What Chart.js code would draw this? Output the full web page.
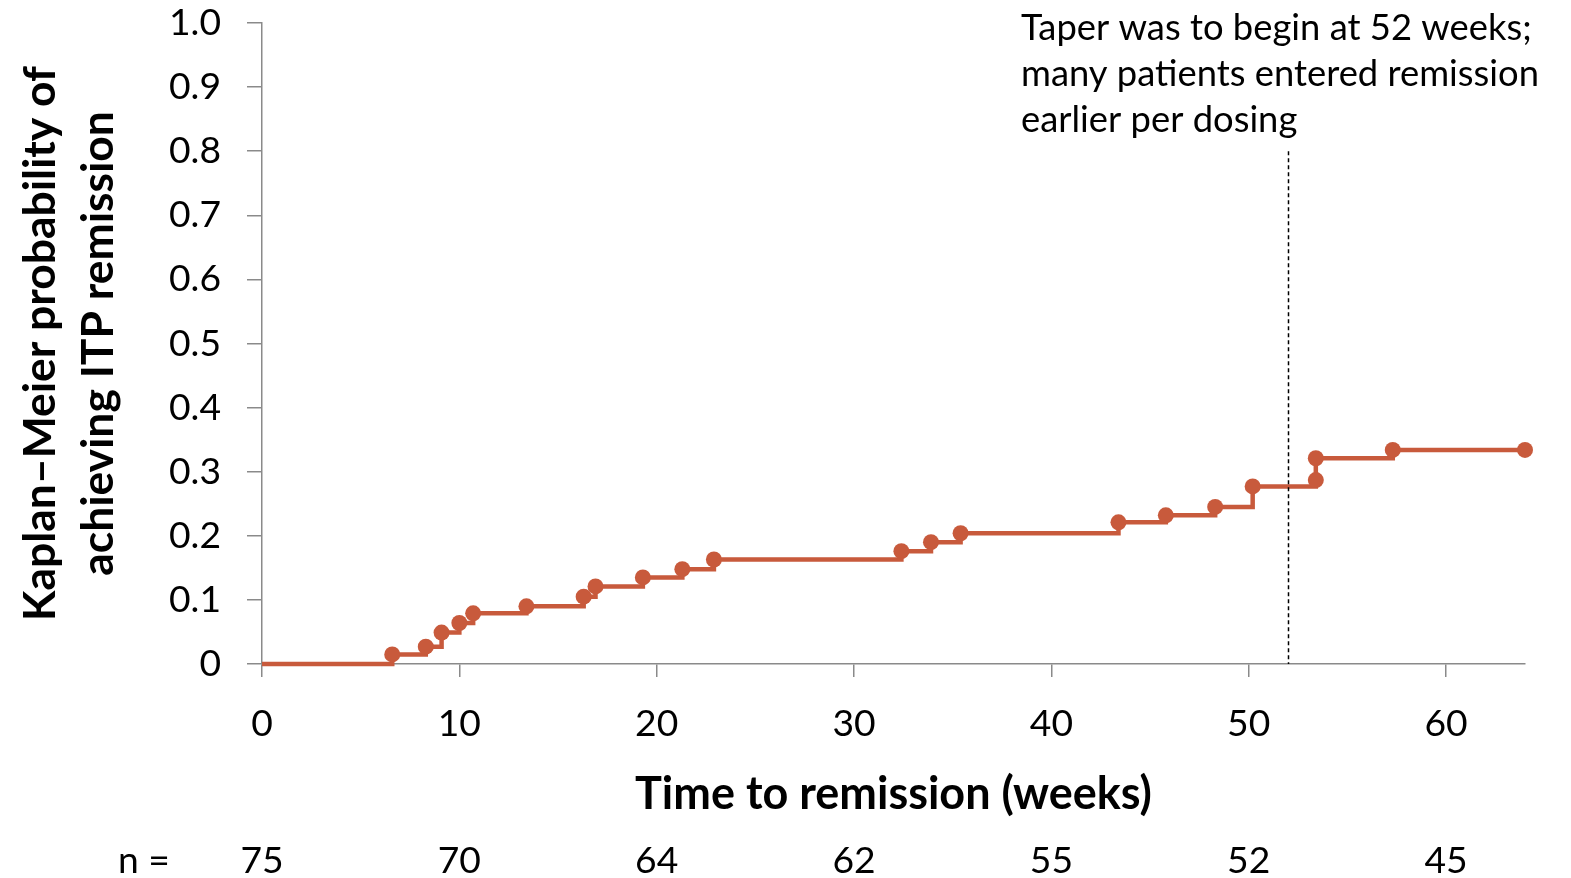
<!DOCTYPE html>
<html>
<head>
<meta charset="utf-8">
<script src="https://cdn.jsdelivr.net/npm/chart.js@4.4.1/dist/chart.umd.min.js"></script>
<style>
  html, body { margin: 0; padding: 0; background: #ffffff; }
  #wrap { width: 1571px; height: 878px; }
</style>
</head>
<body>
<div id="wrap"><canvas id="c" width="1571" height="878"></canvas></div>
<script>
// ---- data ----
const kmWeeks = [0, 6.6, 8.3, 9.1, 10.0, 10.7, 13.4, 16.3, 16.9, 19.3, 21.3, 22.9, 32.4, 33.9, 35.4, 43.4, 45.8, 48.3, 50.2, 53.4, 53.4, 57.3, 64];
const kmProb  = [0, 0.015, 0.027, 0.049, 0.064, 0.079, 0.090, 0.105, 0.121, 0.135, 0.148, 0.163, 0.176, 0.190, 0.204, 0.221, 0.232, 0.245, 0.277, 0.287, 0.321, 0.334, 0.334];
const xTickValues = [0, 10, 20, 30, 40, 50, 60];
const yTickValues = [0, 0.1, 0.2, 0.3, 0.4, 0.5, 0.6, 0.7, 0.8, 0.9, 1.0];
const yTickLabels = ['0', '0.1', '0.2', '0.3', '0.4', '0.5', '0.6', '0.7', '0.8', '0.9', '1.0'];
const atRiskLabel = 'n =';
const atRiskWeeks = [0, 10, 20, 30, 40, 50, 60];
const atRiskCounts = [75, 70, 64, 62, 55, 52, 45];
const taperWeek = 52;
const taperLineTop = 0.8;
const noteLines = ['Taper was to begin at 52 weeks;', 'many patients entered remission', 'earlier per dosing'];
const xTitle = 'Time to remission (weeks)';
const yTitle = ['Kaplan\u2013Meier probability of', 'achieving ITP remission'];
const xMax = 64;

// ---- style ----
const FAMILY = 'Lato, "Open Sans", sans-serif';
const LINE_COLOR = '#C85A3C';
const AXIS_COLOR = '#8a8a8a';

const mctx = document.createElement('canvas').getContext('2d');
function fitSize(text, weight, width) {
  mctx.font = weight + ' 100px ' + FAMILY;
  return 100 * width / mctx.measureText(text).width;
}
const tickSize = fitSize('0.9', 'normal', 52);
const yTitleSize = fitSize(yTitle[0], 'bold', 555);
const xTitleSize = fitSize(xTitle, 'bold', 517);
const noteSize = fitSize(noteLines[1], 'normal', 518);

const overlay = {
  id: 'overlay',
  afterDatasetsDraw(chart) {
    const ctx = chart.ctx;
    const xs = chart.scales.x, ys = chart.scales.y;
    ctx.save();
    ctx.strokeStyle = '#000000';
    ctx.lineWidth = 1.5;
    ctx.setLineDash([4, 3]);
    ctx.beginPath();
    const tx = Math.round(xs.getPixelForValue(taperWeek)) + 0.5;
    ctx.moveTo(tx, ys.getPixelForValue(taperLineTop));
    ctx.lineTo(tx, ys.getPixelForValue(0));
    ctx.stroke();
    ctx.restore();
  },
  afterDraw(chart) {
    const ctx = chart.ctx;
    const xs = chart.scales.x;
    ctx.save();
    ctx.fillStyle = '#000000';
    ctx.font = 'normal ' + noteSize + 'px ' + FAMILY;
    ctx.textAlign = 'left';
    ctx.textBaseline = 'middle';
    noteLines.forEach((t, i) => ctx.fillText(t, 1021, 28 + i * 46));
    ctx.font = 'normal ' + tickSize + 'px ' + FAMILY;
    ctx.textAlign = 'center';
    ctx.fillText(atRiskLabel, 144, 861);
    atRiskWeeks.forEach((w, i) => ctx.fillText(String(atRiskCounts[i]), xs.getPixelForValue(w), 861));
    ctx.restore();
  }
};

const points = kmWeeks.map((w, i) => ({ x: w, y: kmProb[i] }));

new Chart(document.getElementById('c'), {
  type: 'line',
  data: {
    datasets: [{
      data: points,
      stepped: true,
      borderColor: LINE_COLOR,
      backgroundColor: LINE_COLOR,
      borderWidth: 4.5,
      pointRadius: points.map((p, i) => i === 0 ? 0 : 8),
      pointBorderWidth: 0,
      pointBackgroundColor: LINE_COLOR,
      fill: false,
      clip: false
    }]
  },
  options: {
    responsive: false,
    devicePixelRatio: 1,
    animation: false,
    layout: { padding: { left: 0, top: 23, right: 46, bottom: 40 } },
    plugins: { legend: { display: false }, tooltip: { enabled: false } },
    scales: {
      x: {
        type: 'linear',
        min: 0,
        max: xMax,
        afterBuildTicks(scale) { scale.ticks = xTickValues.map(v => ({ value: v })); },
        afterFit(scale) {
          scale.height = 878 - 40 - 664;
          scale.paddingLeft = 0; scale.paddingRight = 0; scale.paddingTop = 0; scale.paddingBottom = 0;
        },
        ticks: {
          color: '#000000',
          font: { family: FAMILY, size: tickSize },
          padding: 25,
          maxRotation: 0,
          callback: (v) => String(v)
        },
        grid: { display: true, drawOnChartArea: false, drawTicks: true, tickLength: 13, color: AXIS_COLOR, lineWidth: 1.5 },
        border: { display: true, color: AXIS_COLOR, width: 1.5 },
        title: {
          display: true,
          text: xTitle,
          color: '#000000',
          font: { family: FAMILY, size: xTitleSize, weight: 'bold', lineHeight: 1.2 },
          padding: { top: 0, bottom: 17 }
        }
      },
      y: {
        type: 'linear',
        min: 0,
        max: 1,
        afterBuildTicks(scale) { scale.ticks = yTickValues.map(v => ({ value: v })); },
        afterFit(scale) {
          scale.width = 262;
          scale.paddingLeft = 0; scale.paddingRight = 0; scale.paddingTop = 0; scale.paddingBottom = 0;
        },
        ticks: {
          color: '#000000',
          font: { family: FAMILY, size: tickSize },
          padding: 26,
          callback: (v, i) => yTickLabels[i]
        },
        grid: { display: true, drawOnChartArea: false, drawTicks: true, tickLength: 15, color: AXIS_COLOR, lineWidth: 1.5 },
        border: { display: true, color: AXIS_COLOR, width: 1.5 },
        title: {
          display: true,
          text: yTitle,
          color: '#000000',
          font: { family: FAMILY, size: yTitleSize, weight: 'bold', lineHeight: 58 / yTitleSize },
          padding: { top: 12, bottom: 0 }
        }
      }
    }
  },
  plugins: [overlay]
});
</script>
</body>
</html>
